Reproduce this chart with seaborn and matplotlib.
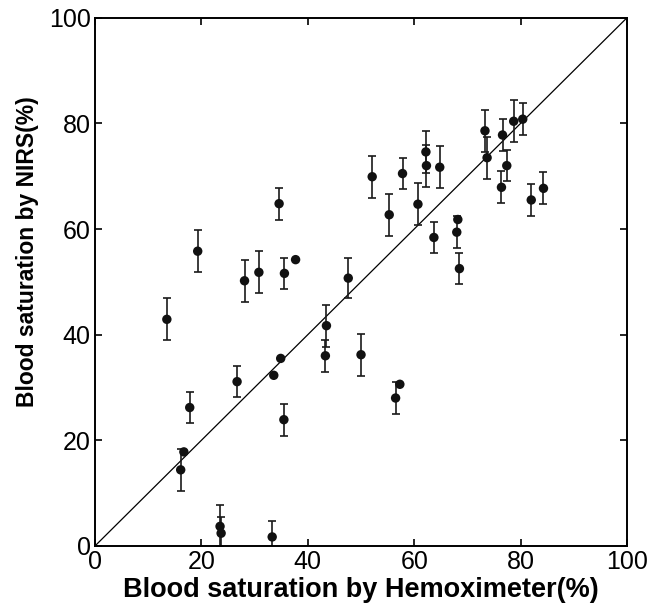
import numpy as np
import matplotlib
matplotlib.use("Agg")
import matplotlib.pyplot as plt
from matplotlib import font_manager
import seaborn as sns

# Hemoximeter vs NIRS blood saturation (%), with NIRS error bars
hemoximeter = [13.5, 16.1, 16.7, 17.8, 19.3, 23.5, 23.7, 26.7, 28.1, 30.8,
               33.3, 33.6, 34.6, 34.9, 35.5, 35.6, 37.7, 43.3, 43.5, 47.6,
               50.0, 52.1, 55.3, 56.5, 57.3, 57.8, 60.7, 62.2, 62.3, 63.7,
               64.8, 68.0, 68.2, 68.5, 73.3, 73.7, 76.4, 76.6, 77.4, 78.7,
               80.4, 82.0, 84.3]
nirs = [42.9, 14.4, 17.8, 26.2, 55.8, 3.7, 2.4, 31.1, 50.2, 51.8,
        1.7, 32.3, 64.8, 35.5, 23.9, 51.6, 54.2, 36.0, 41.7, 50.7,
        36.2, 69.9, 62.7, 28.0, 30.6, 70.5, 64.7, 74.6, 72.0, 58.4,
        71.7, 59.4, 61.8, 52.5, 78.6, 73.5, 67.9, 77.8, 72.0, 80.4,
        80.8, 65.5, 67.7]
nirsErr = [4, 4, 0, 3, 4, 4, 3, 3, 4, 4,
           3, 0, 3, 0, 3, 3, 0, 3, 4, 3.8,
           4, 4, 4, 3, 0, 3, 4, 4, 4, 3,
           4, 3, 0, 3, 4, 4, 3, 3, 3, 4,
           3, 3, 3]

sns.set_theme(style="ticks")

# narrow Helvetica-like look if available
installed = {f.name for f in font_manager.fontManager.ttflist}
if 'Liberation Sans Narrow' in installed:
    plt.rcParams['font.family'] = ['Liberation Sans Narrow', 'DejaVu Sans']
    tickSize, xLabelSize, yLabelSize = 21, 23, 20
else:
    plt.rcParams['font.family'] = ['Liberation Sans', 'DejaVu Sans']
    tickSize, xLabelSize, yLabelSize = 18, 19.5, 16.5
plt.rcParams['text.color'] = 'black'
plt.rcParams['axes.labelcolor'] = 'black'

fig = plt.figure(figsize=(6.6, 6.12), dpi=100)
ax = fig.add_axes([0.144, 0.108, 0.806, 0.863])

x = np.array(hemoximeter)
y = np.array(nirs)
e = np.array(nirsErr)
hasErr = e > 0

ax.plot([0, 100], [0, 100], color="black", linewidth=0.9, zorder=1)
ax.errorbar(x[hasErr], y[hasErr], yerr=e[hasErr], fmt="none",
            ecolor="#1a1a1a", elinewidth=1.2, capsize=3, capthick=1.2, zorder=2)
sns.scatterplot(x=x, y=y, ax=ax, color="#111111", s=46, edgecolor="none", zorder=3)

ax.set_xlim(0, 100)
ax.set_ylim(0, 100)
ax.set_xticks(range(0, 101, 20))
ax.set_yticks(range(0, 101, 20))
ax.tick_params(direction="in", length=5, width=1.2, top=True, right=True,
               labelsize=tickSize, pad=3, colors="black")
for spine in ax.spines.values():
    spine.set_linewidth(1.4)
    spine.set_color("black")

ax.set_xlabel("Blood saturation by Hemoximeter(%)", fontsize=xLabelSize, fontweight="bold", color="black")
ax.set_ylabel("Blood saturation by NIRS(%)", fontsize=yLabelSize, fontweight="bold", color="black")
ax.xaxis.set_label_coords(0.5, -0.058, transform=ax.transAxes)
ax.yaxis.set_label_coords(-0.127, 0.557, transform=ax.transAxes)
ax.xaxis.label.set_va("top")
ax.yaxis.label.set_va("center")

fig.savefig("out.png", dpi=100)
